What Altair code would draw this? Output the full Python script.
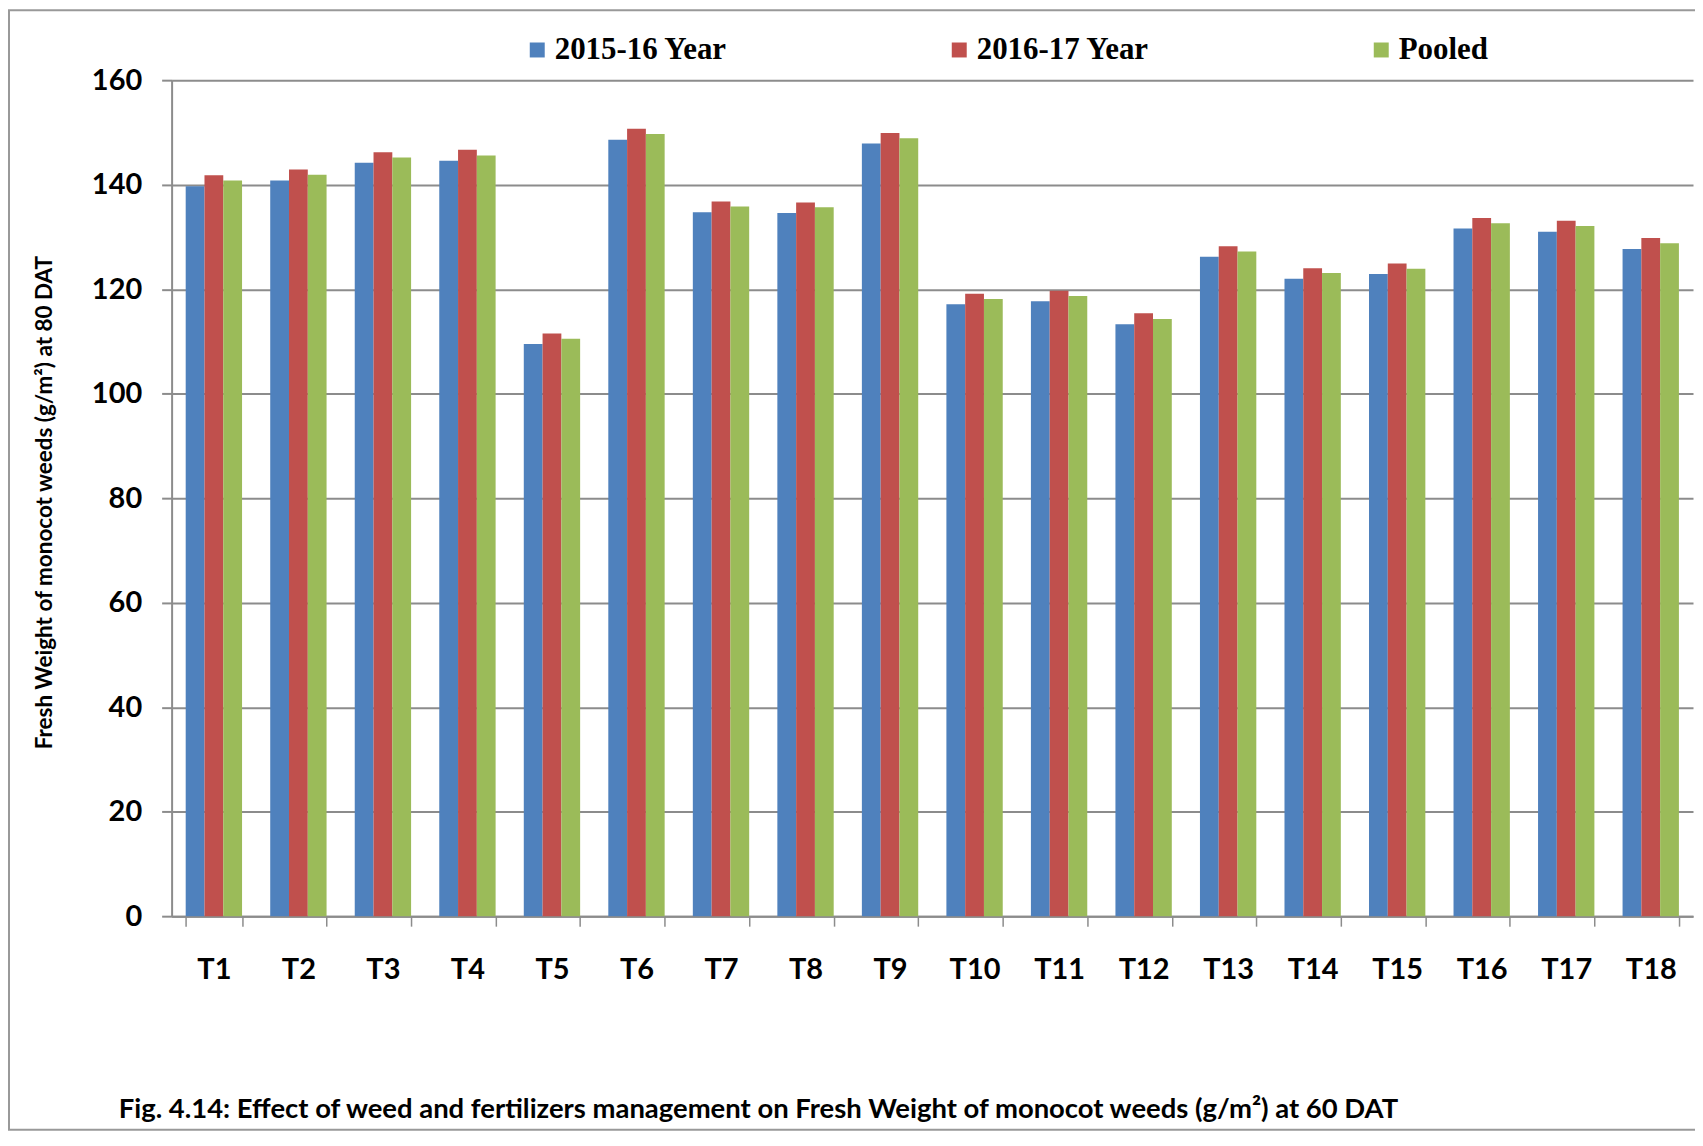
import altair as alt
import pandas as pd

treatments = [f"T{i}" for i in range(1, 19)]
series_names = ["2015-16 Year", "2016-17 Year", "Pooled"]
y2015 = [139.7, 140.8, 144.2, 144.6, 109.5, 148.6, 134.7, 134.6, 147.9,
         117.1, 117.7, 113.3, 126.2, 122.0, 122.9, 131.6, 131.0, 127.7]
y2016 = [141.8, 142.9, 146.2, 146.7, 111.5, 150.7, 136.8, 136.6, 149.9,
         119.1, 119.7, 115.4, 128.2, 124.0, 124.9, 133.6, 133.1, 129.8]
pooled = [140.8, 141.9, 145.2, 145.6, 110.5, 149.7, 135.8, 135.7, 148.9,
          118.1, 118.7, 114.3, 127.2, 123.1, 123.9, 132.6, 132.1, 128.8]
y_ticks = [0, 20, 40, 60, 80, 100, 120, 140, 160]
colors = ["#4F81BD", "#C0504D", "#9BBB59"]

rows = []
for name, vals in zip(series_names, [y2015, y2016, pooled]):
    for t, v in zip(treatments, vals):
        rows.append({"Treatment": t, "Series": name, "Value": v})
df = pd.DataFrame(rows)

W, H = 1525, 838
GRAY = "#8c8c8c"

bars = alt.Chart(df).mark_bar().encode(
    x=alt.X("Treatment:N", sort=treatments,
            scale=alt.Scale(paddingInner=1 / 3, paddingOuter=1 / 6),
            axis=alt.Axis(title=None, labelAngle=0, tickBand="extent", grid=False,
                          domainColor=GRAY, domainWidth=2, tickColor=GRAY, tickWidth=1.5,
                          tickSize=10, labelPadding=29, labelFont="Lato",
                          labelFontSize=29, labelFontWeight="bold", labelColor="black")),
    xOffset=alt.XOffset("Series:N", sort=series_names),
    y=alt.Y("Value:Q", scale=alt.Scale(domain=[0, 160], nice=False),
            axis=alt.Axis(values=y_ticks, title="Fresh Weight of monocot weeds (g/m²) at 80 DAT",
                          grid=True, gridColor=GRAY, gridWidth=2,
                          domainColor=GRAY, domainWidth=2, tickColor=GRAY, tickWidth=2,
                          tickSize=10, labelPadding=20, labelFont="Lato", labelFontSize=29,
                          labelFontWeight="bold", labelColor="black",
                          titleFont="Lato", titleFontSize=22.5, titleFontWeight="bold",
                          titleColor="black", titleAngle=270, titleAlign="center",
                          titleBaseline="middle", titleX=-127, titleY=H / 2 + 4)),
    color=alt.Color("Series:N", sort=series_names,
                    scale=alt.Scale(domain=series_names, range=colors),
                    legend=alt.Legend(title=None, orient="none", legendX=351, legendY=-46,
                                      direction="horizontal", columns=3, gridAlign="all",
                                      columnPadding=216, symbolType="square", symbolSize=225,
                                      symbolStrokeWidth=0, symbolOpacity=1, labelOffset=2,
                                      labelLimit=500,
                                      labelFont="Liberation Serif", labelFontSize=31,
                                      labelFontWeight="bold", labelColor="black", padding=0)),
)

frame = alt.Chart(pd.DataFrame({"a": [0]})).mark_rect(
    fillOpacity=0, stroke="#999999", strokeWidth=2
).encode(
    x=alt.value(-163), x2=alt.value(W + 60), y=alt.value(-70), y2=alt.value(1052)
)

chart = alt.layer(frame, bars).properties(
    width=W, height=H,
    autosize=alt.AutoSizeParams(type="none"),
    padding={"left": 164, "top": 71, "right": 2, "bottom": 216},
    title=alt.TitleParams(
        text="Fig. 4.14: Effect of weed and fertilizers management on Fresh Weight of monocot weeds (g/m²) at 60 DAT",
        orient="bottom", anchor="start", frame="group", font="Lato", fontSize=27.5,
        fontWeight="bold", color="black", baseline="middle", offset=-21, dx=-53),
).configure_view(strokeWidth=0)

chart.save("out.html", embed_options={"renderer": "svg", "actions": False})
